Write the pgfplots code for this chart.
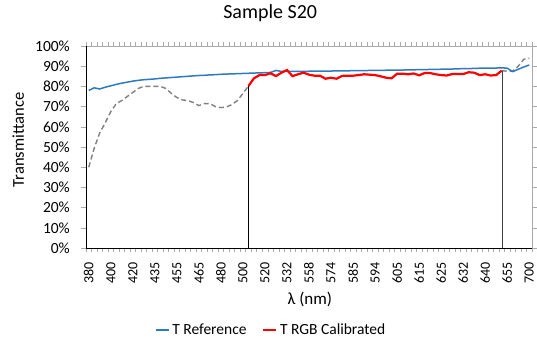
\documentclass[border=0pt]{standalone}
\usepackage{pgfplots}
\pgfplotsset{compat=1.18}
\usepackage{fontspec}
\setmainfont{Carlito}
\definecolor{refblue}{RGB}{46,122,190}
\definecolor{calred}{RGB}{255,0,0}
\definecolor{estgray}{RGB}{128,128,128}
\definecolor{framegray}{RGB}{170,170,170}

\begin{document}
\begin{tikzpicture}[x=1pt,y=1pt]
\useasboundingbox (0,0) rectangle (537,342);
\begin{axis}[
  at={(86pt,94pt)}, anchor=south west,
  scale only axis, width=446pt, height=202pt,
  xmin=-0.5, xmax=80.5, ymin=0, ymax=100,
  xtick={0,4,...,80},
  xticklabels={380,400,420,435,455,465,480,500,520,532,558,574,585,594,605,615,625,632,640,655,700},
  minor xtick={-0.5,0.5,...,80.5},
  ytick={0,10,...,100},
  yticklabel={\pgfmathprintnumber{\tick}\%},
  /pgf/number format/assume math mode=true,
  tick align=outside,
  major x tick style={draw=none},
  minor x tick style={framegray, thin},
  minor tick length=4pt,
  ytick style={framegray, thin},
  major tick length=5pt,
  xticklabel style={rotate=90, anchor=east, font=\fontsize{14}{16}\selectfont, inner sep=1pt, xshift=-8pt},
  yticklabel style={font=\fontsize{15.5}{17}\selectfont, inner sep=1pt, xshift=-10pt},
  axis line style={framegray},
  title={Sample S20},
  title style={at={(0.413,1.134)}, anchor=center, font=\fontsize{20}{22}\selectfont},
  xlabel={λ (nm)},
  xlabel style={at={(0.502,-0.257)}, anchor=center, font=\fontsize{17}{19}\selectfont},
  ylabel={Transmittance},
  ylabel style={at={(-0.152,0.535)}, anchor=center, font=\fontsize{16.5}{18}\selectfont},
  legend style={at={(0.415,-0.406)}, anchor=center, draw=none, fill=none,
    legend columns=2, font=\fontsize{15.5}{17}\selectfont,
    /tikz/every even column/.append style={column sep=14pt},
    /tikz/every odd column/.append style={column sep=1pt}},
  legend image code/.code={\draw[#1, line width=1.5pt] (0pt,0pt) -- (13pt,0pt);},
  clip=false,
]
% estimated transmittance outside the calibrated range (dashed)
\addplot[estgray, line width=1.4pt, dash pattern=on 5pt off 3pt, forget plot] coordinates {
(0,40.0) (1,49.5) (2,57.0) (3,62.0) (4,67.5) (5,71.5) (6,73.0) (7,75.0)
(8,77.0) (9,79.0) (10,80.0) (11,80.0) (12,80.0) (13,80.0) (14,79.0)
(15,76.5) (16,74.5) (17,73.3) (18,73.0) (19,72.0) (20,70.5) (21,71.5)
(22,71.5) (23,70.0) (24,69.5) (25,69.8) (26,71.0) (27,73.0) (28,76.5)
(29,80.2)
};
\addplot[estgray, line width=1.4pt, dash pattern=on 5pt off 3pt, forget plot] coordinates {
(75,87.8) (76,87.5) (77,87.6) (78,90.0) (79,93.4) (80,94.0)
};
% limits of the calibrated range
\addplot[black, thin, forget plot] coordinates {(29,0) (29,80.2)};
\addplot[black!75, thin, forget plot] coordinates {(75,0) (75,87.8)};
% reference transmittance
\addplot[refblue, line width=1.5pt] coordinates {
(0,78.0) (1,79.3) (2,78.7) (3,79.6) (4,80.3) (5,81.0) (6,81.6) (7,82.1)
(8,82.6) (9,83.0) (10,83.3) (11,83.5) (12,83.7) (13,84.0) (14,84.2)
(15,84.4) (16,84.6) (17,84.8) (18,85.0) (19,85.2) (20,85.4) (21,85.5)
(22,85.7) (23,85.8) (24,86.0) (25,86.1) (26,86.2) (27,86.3) (28,86.4)
(29,86.5) (30,86.6) (31,86.7) (32,86.8) (33,86.9) (34,87.9) (35,87.4)
(36,87.5) (37,87.4) (38,87.5) (39,87.4) (40,87.5) (41,87.5) (42,87.6)
(43,87.6) (44,87.6) (45,87.7) (46,87.7) (47,87.7) (48,87.8) (49,87.8)
(50,87.8) (51,87.9) (52,87.9) (53,87.9) (54,88.0) (55,88.0) (56,88.1)
(57,88.1) (58,88.2) (59,88.2) (60,88.3) (61,88.3) (62,88.4) (63,88.4)
(64,88.5) (65,88.5) (66,88.6) (67,88.7) (68,88.8) (69,88.8) (70,88.9)
(71,89.0) (72,89.0) (73,89.1) (74,89.1) (75,89.2) (76,89.0) (77,87.3)
(78,88.5) (79,89.6) (80,90.6)
};
\addlegendentry{T Reference}
% RGB calibrated transmittance
\addplot[calred, line width=2.2pt] coordinates {
(29,80.2) (30,84.0) (31,85.6) (32,85.6) (33,86.5) (34,85.1) (35,86.8)
(36,88.1) (37,85.1) (38,86.0) (39,86.8) (40,85.8) (41,85.3) (42,85.3)
(43,83.8) (44,84.3) (45,83.8) (46,85.2) (47,85.3) (48,85.3) (49,85.6)
(50,86.0) (51,85.8) (52,85.6) (53,85.0) (54,84.3) (55,84.0) (56,86.3)
(57,86.3) (58,86.0) (59,86.4) (60,85.5) (61,86.6) (62,86.6) (63,86.0)
(64,85.6) (65,85.4) (66,86.1) (67,86.1) (68,86.1) (69,87.0) (70,86.8)
(71,85.6) (72,86.0) (73,85.4) (74,85.6) (75,87.8)
};
\addlegendentry{T RGB Calibrated}
% left and bottom axis lines
\draw[black, thin] (rel axis cs:0,0) -- (rel axis cs:0,1);
\draw[black, thin] (rel axis cs:0,0) -- (rel axis cs:1,0);
\end{axis}
\end{tikzpicture}
\end{document}
